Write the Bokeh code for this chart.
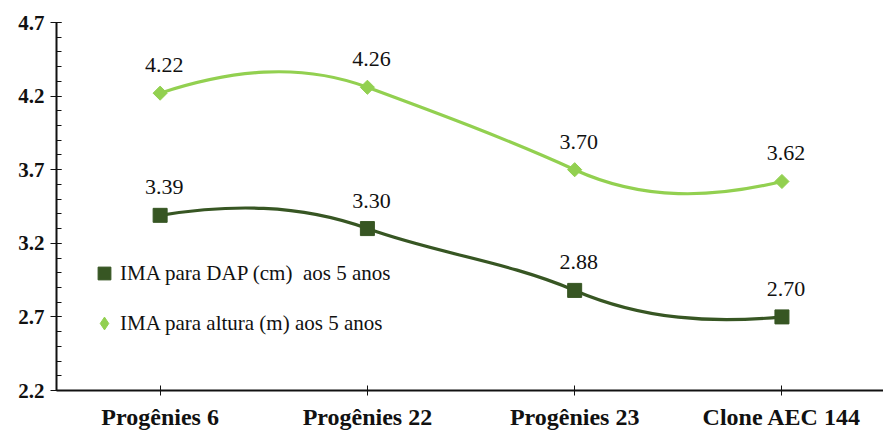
import numpy as np
from bokeh.plotting import figure
from bokeh.models import Range1d, FixedTicker, Legend, LegendItem, ColumnDataSource
from bokeh.core.properties import value
from bokeh.embed import file_html
from bokeh.resources import INLINE

categories = ["Progênies 6", "Progênies 22", "Progênies 23", "Clone AEC 144"]
dap = [3.39, 3.30, 2.88, 2.70]
altura = [4.22, 4.26, 3.70, 3.62]
series_names = ["IMA para DAP (cm)  aos 5 anos", "IMA para altura (m) aos 5 anos"]
y_ticks = [2.2, 2.7, 3.2, 3.7, 4.2, 4.7]

DARK = "#375623"
LIGHT = "#92D050"
FONT = "Liberation Serif"
TEXT = "#111111"

xs = [i + 0.5 for i in range(len(categories))]


def smooth_segments(x, y):
    n = len(y)
    m = [0.0] * n
    for i in range(1, n - 1):
        m[i] = 2.0 * (y[i + 1] - y[i - 1]) / (x[i + 1] - x[i - 1])
    d0 = (y[1] - y[0]) / (x[1] - x[0])
    m[0] = 1.75 * d0 - 0.75 * m[1]
    dn = (y[-1] - y[-2]) / (x[-1] - x[-2])
    m[-1] = 1.75 * dn - 0.75 * m[-2]
    seg = dict(x0=[], y0=[], x1=[], y1=[], cx0=[], cy0=[], cx1=[], cy1=[])
    for i in range(n - 1):
        h = x[i + 1] - x[i]
        seg["x0"].append(x[i]); seg["y0"].append(y[i])
        seg["x1"].append(x[i + 1]); seg["y1"].append(y[i + 1])
        seg["cx0"].append(x[i] + h / 3); seg["cy0"].append(y[i] + m[i] * h / 3)
        seg["cx1"].append(x[i + 1] - h / 3); seg["cy1"].append(y[i + 1] - m[i + 1] * h / 3)
    return ColumnDataSource(seg)


p = figure(width=883, height=432, output_backend="svg", toolbar_location=None,
           x_range=Range1d(0, 3.99), y_range=Range1d(2.2, 4.7),
           min_border_left=56, min_border_right=0, min_border_top=22, min_border_bottom=42)
p.outline_line_color = None
p.xgrid.visible = False
p.ygrid.visible = False
p.background_fill_color = "white"
p.border_fill_color = "white"

for vals, col in [(dap, DARK), (altura, LIGHT)]:
    src = smooth_segments(xs, vals)
    p.bezier(x0="x0", y0="y0", x1="x1", y1="y1", cx0="cx0", cy0="cy0", cx1="cx1", cy1="cy1",
             source=src, line_color=col, line_width=3.2)

p.scatter(xs, dap, marker="square", size=14, fill_color=DARK, line_color=DARK)
p.scatter(xs, altura, marker="square", angle=np.pi / 4, size=10, fill_color=LIGHT, line_color=LIGHT)

# legend glyph renderers (a single undrawn NaN point each)
leg_dap = p.scatter(x=[np.nan], y=[np.nan], marker="square", fill_color=DARK, line_color=DARK)
leg_alt = p.scatter(x=[np.nan], y=[np.nan], marker="diamond", fill_color=LIGHT, line_color=LIGHT)

for vals in (dap, altura):
    p.text(x=xs, y=vals, text=[f"{v:.2f}" for v in vals], text_font=value(FONT),
           text_font_size="22px", text_align="center", text_baseline="middle",
           text_color=TEXT, x_offset=4, y_offset=-28)

# axes
p.xaxis.ticker = FixedTicker(ticks=xs)
p.xaxis.major_label_overrides = {x: c for x, c in zip(xs, categories)}
p.xaxis.major_label_text_font = FONT
p.xaxis.major_label_text_font_style = "bold"
p.xaxis.major_label_text_font_size = "24px"
p.xaxis.major_label_text_color = TEXT
p.xaxis.major_tick_in = 5
p.xaxis.major_tick_out = 5
p.xaxis.minor_tick_line_color = None
p.xaxis.major_label_standoff = 8
p.xaxis.axis_line_width = 2
p.xaxis.axis_line_color = TEXT
p.xaxis.major_tick_line_color = TEXT

minor = [round(v, 1) for v in np.arange(2.2, 4.71, 0.1)]
p.yaxis.ticker = FixedTicker(ticks=y_ticks, minor_ticks=minor)
p.yaxis.major_label_overrides = {t: f"{t:.1f}" for t in y_ticks}
p.yaxis.major_label_text_font = FONT
p.yaxis.major_label_text_font_style = "bold"
p.yaxis.major_label_text_font_size = "21px"
p.yaxis.major_label_text_color = TEXT
p.yaxis.major_tick_in = 5
p.yaxis.major_tick_out = 6
p.yaxis.minor_tick_in = 5
p.yaxis.minor_tick_out = 0
p.yaxis.major_label_standoff = 6
p.yaxis.axis_line_width = 2
p.yaxis.axis_line_color = TEXT
p.yaxis.major_tick_line_color = TEXT
p.yaxis.minor_tick_line_color = TEXT

legend = Legend(items=[LegendItem(label=series_names[0], renderers=[leg_dap]),
                       LegendItem(label=series_names[1], renderers=[leg_alt])],
                location=(32, 51), orientation="vertical",
                glyph_width=32, glyph_height=32, label_height=32, spacing=18,
                padding=0, margin=0, label_standoff=0,
                label_text_font=FONT, label_text_font_size="21px",
                label_text_color=TEXT,
                border_line_alpha=0, background_fill_alpha=0)
p.add_layout(legend, "center")

open("out.html", "w").write(file_html(p, INLINE))
